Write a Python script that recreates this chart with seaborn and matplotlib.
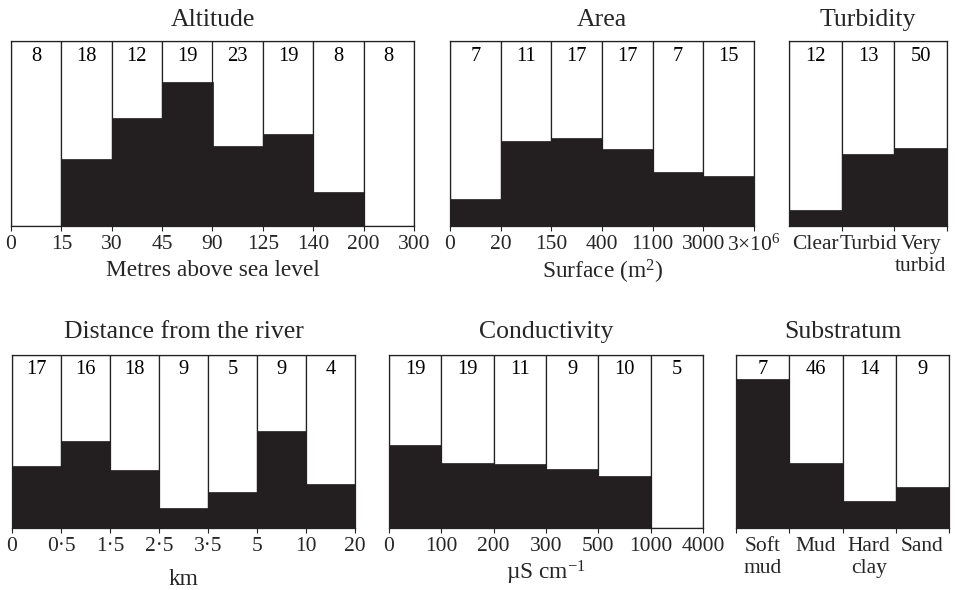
import matplotlib
matplotlib.use("Agg")
import matplotlib.pyplot as plt
import seaborn as sns
import pandas as pd
import numpy as np

# ---------------- data ----------------
altitude_edges = ['0', '15', '30', '45', '90', '125', '140', '200', '300']
altitude_n = [8, 18, 12, 19, 23, 19, 8, 8]
altitude_prop = [0.0, 0.36, 0.585, 0.78, 0.43, 0.50, 0.185, 0.0]

area_edges = ['0', '20', '150', '400', '1100', '3000', '3×10$^{6}$']
area_n = [7, 11, 17, 17, 7, 15]
area_prop = [0.146, 0.458, 0.476, 0.415, 0.29, 0.27]

turbidity_cats = ['Clear', 'Turbid', 'Very\nturbid']
turbidity_n = [12, 13, 50]
turbidity_prop = [0.083, 0.386, 0.42]

distance_edges = ['0', '0·5', '1·5', '2·5', '3·5', '5', '10', '20']
distance_n = [17, 16, 18, 9, 5, 9, 4]
distance_prop = [0.36, 0.503, 0.337, 0.117, 0.21, 0.56, 0.256]

conductivity_edges = ['0', '100', '200', '300', '500', '1000', '4000']
conductivity_n = [19, 19, 11, 9, 10, 5]
conductivity_prop = [0.48, 0.373, 0.369, 0.34, 0.303, 0.0]

substratum_cats = ['Soft\nmud', 'Mud', 'Hard\nclay', 'Sand']
substratum_n = [7, 46, 14, 9]
substratum_prop = [0.86, 0.377, 0.154, 0.235]

# ---------------- style ----------------
sns.set_theme(style="white")
plt.rcParams['font.family'] = ['Liberation Serif', 'DejaVu Serif']
plt.rcParams['mathtext.fontset'] = 'custom'
plt.rcParams['mathtext.rm'] = 'Liberation Serif'
plt.rcParams['mathtext.it'] = 'Liberation Serif:italic'
plt.rcParams['mathtext.bf'] = 'Liberation Serif:bold'

BLACK = '#231f20'
EDGE = '#222222'
TITLE_FS = 18.5
TICK_FS = 15.5
LABEL_FS = 16.8
NUM_FS = 14.8

W, H = 968, 590
fig = plt.figure(figsize=(W / 100, H / 100), dpi=100)


def px_axes(left, top, right, bottom):
    return fig.add_axes([left / W, (H - bottom) / H, (right - left) / W, (bottom - top) / H])


def panel(ax, n, prop, title, title_pad, edges=None, cats=None, xlabel=None,
          left_tick=True, num_y=0.89):
    k = len(n)
    names = [f"b{i}" for i in range(k)]
    df = pd.DataFrame({'bin': names, 'full': [1.0] * k, 'prop': prop, 'n': n})
    sns.barplot(data=df, x='bin', y='full', order=names, color='white',
                edgecolor=EDGE, linewidth=0.9, width=1.0, saturation=1, ax=ax)
    sns.barplot(data=df, x='bin', y='prop', order=names, color=BLACK,
                edgecolor=BLACK, linewidth=0.5, width=1.0, saturation=1, ax=ax)
    ax.set_xlim(-0.5, k - 0.5)
    ax.set_ylim(0, 1)
    ax.set_yticks([])
    ax.set_ylabel('')
    for s in ax.spines.values():
        s.set_visible(True)
        s.set_color(EDGE)
        s.set_linewidth(0.9)
    for i, v in enumerate(n):
        ax.text(i, num_y, str(v), ha='center', va='baseline', fontsize=NUM_FS,
                transform=ax.get_xaxis_transform(), color='black')
    bounds = np.arange(k + 1) - 0.5
    ax.tick_params(axis='x', which='both', bottom=True, direction='out',
                   length=3.5, width=0.8, color=EDGE, pad=3, labelsize=TICK_FS)
    if edges is not None:
        ax.set_xticks(bounds)
        ax.set_xticklabels(edges, fontsize=TICK_FS)
    else:
        tb = bounds if left_tick else bounds[1:]
        ax.set_xticks(tb)
        ax.set_xticklabels([''] * len(tb))
        ax.set_xticks(np.arange(k), minor=True)
        ax.set_xticklabels(cats, minor=True, fontsize=TICK_FS, linespacing=1.22)
        ax.tick_params(axis='x', which='minor', length=0, pad=6.5)
    ax.set_xlabel(xlabel if xlabel else '', fontsize=LABEL_FS, labelpad=4)
    ax.set_title(title, fontsize=TITLE_FS, pad=title_pad)


ax1 = px_axes(11, 41, 414, 226)
panel(ax1, altitude_n, altitude_prop, 'Altitude', 10.5, edges=altitude_edges,
      xlabel='Metres above sea level')

ax2 = px_axes(450, 41, 754, 226)
panel(ax2, area_n, area_prop, 'Area', 10.5, edges=area_edges,
      xlabel='Surface (m$^{2}$)')
ax2.xaxis.labelpad = 1

ax3 = px_axes(789, 41, 947, 225.5)
panel(ax3, turbidity_n, turbidity_prop, 'Turbidity', 10.5, cats=turbidity_cats,
      left_tick=False)

ax4 = px_axes(12, 355, 355, 528)
panel(ax4, distance_n, distance_prop, 'Distance from the river', 12.5,
      edges=distance_edges, xlabel='km')
ax4.xaxis.labelpad = 9

ax5 = px_axes(389, 355, 703, 528)
panel(ax5, conductivity_n, conductivity_prop, 'Conductivity', 12.5,
      edges=conductivity_edges, xlabel='µS cm$^{-1}$')
ax5.xaxis.labelpad = 2

ax6 = px_axes(736, 355, 949, 528)
panel(ax6, substratum_n, substratum_prop, 'Substratum', 12.5, cats=substratum_cats,
      left_tick=True)

fig.savefig('out.png', dpi=100, facecolor='white')
